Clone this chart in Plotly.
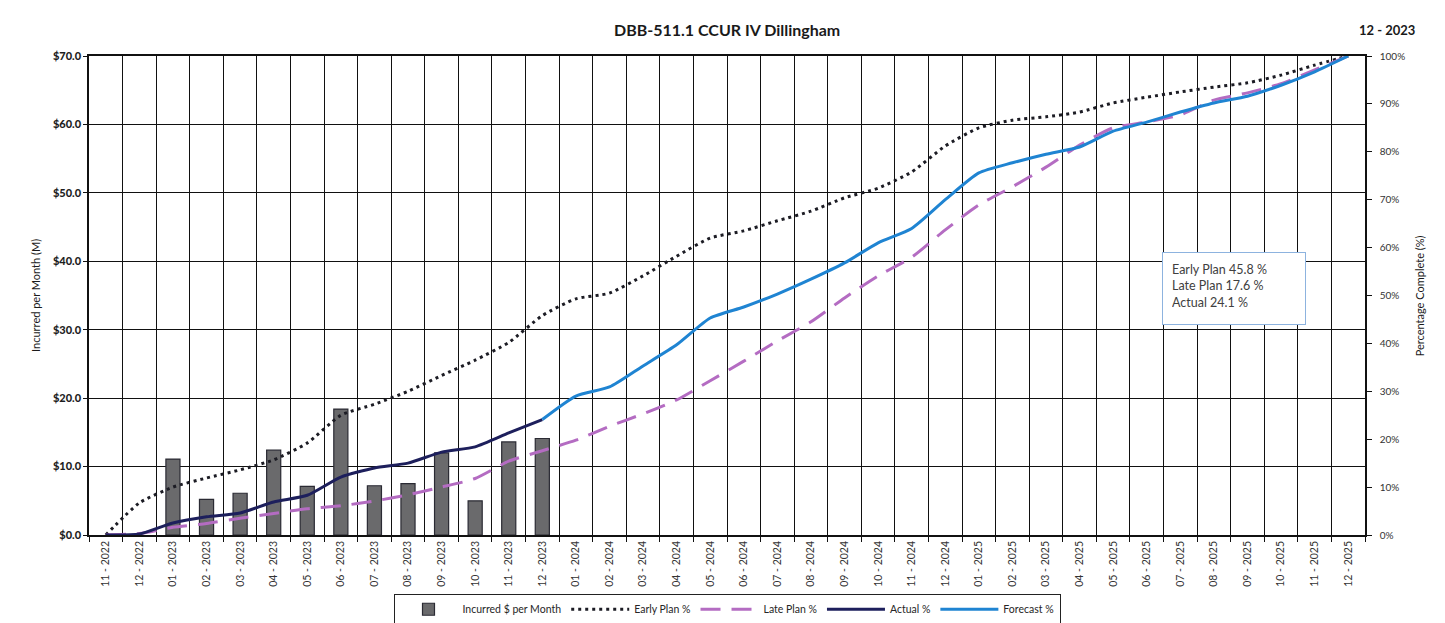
import plotly.graph_objects as go

# Month labels along the schedule (Nov 2022 – Dec 2025)
months = [
    "11 - 2022", "12 - 2022",
    "01 - 2023", "02 - 2023", "03 - 2023", "04 - 2023", "05 - 2023", "06 - 2023",
    "07 - 2023", "08 - 2023", "09 - 2023", "10 - 2023", "11 - 2023", "12 - 2023",
    "01 - 2024", "02 - 2024", "03 - 2024", "04 - 2024", "05 - 2024", "06 - 2024",
    "07 - 2024", "08 - 2024", "09 - 2024", "10 - 2024", "11 - 2024", "12 - 2024",
    "01 - 2025", "02 - 2025", "03 - 2025", "04 - 2025", "05 - 2025", "06 - 2025",
    "07 - 2025", "08 - 2025", "09 - 2025", "10 - 2025", "11 - 2025", "12 - 2025",
]

# Monthly incurred cost ($M), 01-2023 .. 12-2023
incurred_months = months[2:14]
incurred = [11.1, 5.2, 6.1, 12.4, 7.1, 18.4, 7.2, 7.5, 12.0, 5.0, 13.6, 14.1]

# Cumulative percentage complete curves
early_plan = [0.0, 6.7, 10.0, 11.9, 13.6, 15.7, 19.2, 25.0, 27.3, 30.0, 33.3, 36.5,
              40.2, 45.8, 49.3, 50.5, 54.1, 58.2, 62.0, 63.5, 65.6, 67.6, 70.4, 72.4,
              75.8, 81.2, 85.0, 86.6, 87.3, 88.3, 90.2, 91.4, 92.5, 93.5, 94.4, 96.0,
              98.1, 100.0]
late_plan = [0.0, 0.3, 1.6, 2.4, 3.5, 4.5, 5.5, 6.1, 7.1, 8.4, 10.0, 11.8, 15.4,
             17.6, 19.8, 22.7, 25.3, 28.2, 32.2, 36.3, 40.5, 44.5, 49.5, 54.1, 58.0,
             63.7, 68.9, 72.7, 76.8, 81.4, 85.0, 86.2, 87.7, 90.8, 92.3, 94.2, 97.1,
             100.0]
actual_months = months[:14]
actual = [0.0, 0.2, 2.5, 3.8, 4.6, 6.9, 8.3, 12.1, 14.0, 15.0, 17.3, 18.4, 21.3, 24.1]
forecast_months = months[13:]
forecast = [24.1, 29.0, 30.9, 35.3, 39.7, 45.3, 47.6, 50.3, 53.4, 56.8, 61.0, 64.0,
            70.0, 75.6, 77.7, 79.5, 81.0, 84.3, 86.2, 88.3, 90.2, 91.6, 93.9, 96.7,
            100.0]

status_month = "12 - 2023"
title_text = "DBB-511.1 CCUR IV Dillingham"

FONT = "Lato, 'Open Sans', sans-serif"
TXT = "#262626"

i_now = months.index(status_month)
summary = (f"Early Plan {early_plan[i_now]:.1f} %<br>"
           f"Late Plan {late_plan[i_now]:.1f} %<br>"
           f"Actual {actual[actual_months.index(status_month)]:.1f} %")

fig = go.Figure()

fig.add_trace(go.Bar(
    x=incurred_months, y=incurred, name="Incurred $ per Month",
    marker=dict(color="#6a6a6c", line=dict(color="#2a2a33", width=1.2)),
    width=0.42, yaxis="y",
))
fig.add_trace(go.Scatter(
    x=months, y=early_plan, name="Early Plan %", yaxis="y2", mode="lines",
    line=dict(color="#1c1c24", width=3, dash="3px,4px", shape="spline", smoothing=0.6),
))
fig.add_trace(go.Scatter(
    x=months, y=late_plan, name="Late Plan %", yaxis="y2", mode="lines",
    line=dict(color="#b46cc2", width=3, dash="20px,11px", shape="spline", smoothing=0.6),
))
fig.add_trace(go.Scatter(
    x=actual_months, y=actual, name="Actual %", yaxis="y2", mode="lines",
    line=dict(color="#1d1f5c", width=3, shape="spline", smoothing=0.6),
))
fig.add_trace(go.Scatter(
    x=forecast_months, y=forecast, name="Forecast %", yaxis="y2", mode="lines",
    line=dict(color="#1f84d2", width=3, shape="spline", smoothing=0.6),
))

fig.update_layout(
    width=1445, height=623,
    margin=dict(l=89, r=80, t=56, b=88, autoexpand=False),
    paper_bgcolor="white", plot_bgcolor="white",
    font=dict(family=FONT, color=TXT, size=11),
    showlegend=True,
    xaxis=dict(
        type="category", categoryorder="array", categoryarray=months,
        range=[-0.5, len(months) - 0.5],
        tickson="boundaries", ticks="outside", ticklen=5, tickcolor="#111",
        tickwidth=1.2, automargin=False,
        showgrid=True, gridcolor="#111", gridwidth=1.4,
        showline=True, linecolor="#111", linewidth=1.5, mirror=True,
        tickangle=-90, tickfont=dict(size=10.5, color="#333"),
    ),
    yaxis=dict(
        range=[0, 70], dtick=10, tick0=0, automargin=False,
        tickprefix="$", tickformat=".1f",
        ticks="outside", ticklen=4, tickcolor="#111",
        showgrid=True, gridcolor="#111", gridwidth=1.4, zeroline=False,
        showline=True, linecolor="#111", linewidth=1.5,
        tickfont=dict(size=11, color="#1e1e1e", family="Lato Black, Lato, sans-serif"),
    ),
    yaxis2=dict(
        range=[0, 100], dtick=10, tick0=0, ticksuffix="%", automargin=False,
        overlaying="y", side="right",
        ticks="outside", ticklen=5, tickcolor="#111", ticklabelstandoff=6,
        showgrid=False, zeroline=False,
        showline=True, linecolor="#111", linewidth=1.5,
        tickfont=dict(size=10, color="#333"),
    ),
    legend=dict(
        orientation="h", x=0.5, xanchor="center", y=-0.155, yanchor="middle",
        bordercolor="#222", borderwidth=1, bgcolor="white",
        font=dict(size=10.5, color="#262626"),
        itemwidth=58, tracegroupgap=0,
    ),
    annotations=[
        dict(text=f"<b>{title_text}</b>", xref="paper", yref="paper",
             x=0.5, y=1.055, xanchor="center", yanchor="middle", showarrow=False,
             font=dict(size=16, color="#1a1a1a")),
        dict(text=f"<b>{status_month}</b>", xref="paper", yref="paper",
             x=1.017, y=1.055, xanchor="center", yanchor="middle", showarrow=False,
             font=dict(size=13, color="#1a1a1a")),
        dict(text="Incurred per Month (M)", xref="paper", yref="paper",
             x=-0.042, y=0.5, xanchor="center", yanchor="middle", textangle=-90,
             showarrow=False, font=dict(size=11, color="#1a1a1a")),
        dict(text="Percentage Complete (%)", xref="paper", yref="paper",
             x=1.043, y=0.5, xanchor="center", yanchor="middle", textangle=-90,
             showarrow=False, font=dict(size=11, color="#1a1a1a")),
        dict(text=summary, xref="paper", yref="paper",
             x=0.841, y=0.591, xanchor="left", yanchor="top", align="left",
             valign="top", height=53,
             showarrow=False, bgcolor="white", bordercolor="#8db3df",
             borderwidth=1, borderpad=9, width=124,
             font=dict(size=12.5, color="#404040")),
    ],
)

fig.write_html("out.html")
